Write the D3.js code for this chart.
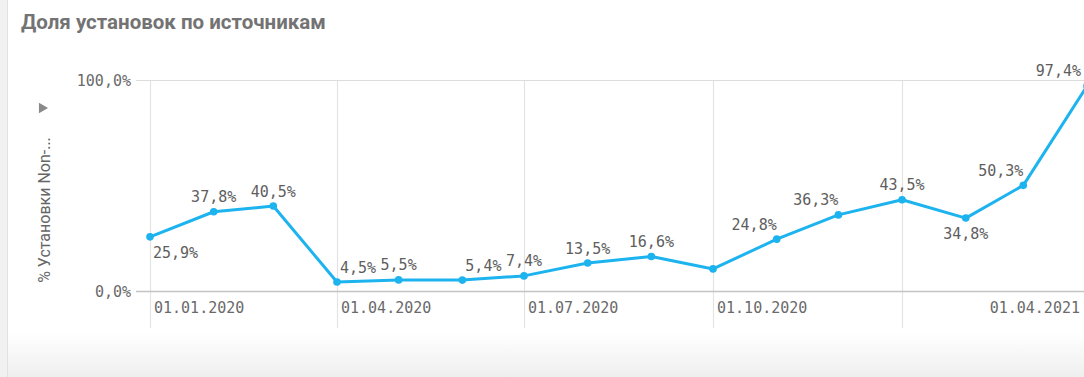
<!DOCTYPE html>
<html>
<head>
<meta charset="utf-8">
<script src="https://cdn.jsdelivr.net/npm/d3@7"></script>
<style>
  html, body { margin: 0; padding: 0; background: #fff; }
  svg { display: block; }
</style>
</head>
<body>
<svg id="chart" width="1084" height="377"></svg>
<script>
// Monthly share of installs (%), Jan 2020 – Apr 2021
const months = ["2020-01-01","2020-02-01","2020-03-01","2020-04-01","2020-05-01","2020-06-01",
                "2020-07-01","2020-08-01","2020-09-01","2020-10-01","2020-11-01","2020-12-01",
                "2021-01-01","2021-02-01","2021-03-01","2021-04-01"];
const shareValues = [25.9, 37.8, 40.5, 4.5, 5.5, 5.4, 7.4, 13.5, 16.6, 10.7, 24.8, 36.3, 43.5, 34.8, 50.3, 97.4];
// where each value label sits relative to its point ("none" = label hidden)
const labelPlacement = ["below-start","above","above","above-start","above","above-start",
                        "above","above","above","none","above-end","above-end",
                        "above","below","above-end","above-end"];
const yTickValues = [0, 100];
const xTickDates = ["2020-01-01","2020-04-01","2020-07-01","2020-10-01","2021-01-01","2021-04-01"];
const xTickShown = [true, true, true, true, false, true];

const title = "Доля установок по источникам";
const yTitle = "% Установки Non-...";

const W = 1084, H = 377;
const svg = d3.select("#chart");
const parse = d3.utcParse("%Y-%m-%d");
const fmtDate = d3.utcFormat("%d.%m.%Y");
const fmtPct = v => d3.format(".1f")(v).replace(".", ",") + "%";

const plotLeft = 150, plotTop = 80.5, plotBottom = 291.5;

const x = d3.scaleUtc()
  .domain([parse("2020-01-01"), parse("2021-04-01")])
  .range([plotLeft, 1087]);
const y = d3.scaleLinear().domain([0, 100]).range([plotBottom, plotTop]);

const data = months.map((m, i) => ({ date: parse(m), value: shareValues[i], place: labelPlacement[i] }));

// page backdrop: left strip and lower shaded band
const defs = svg.append("defs");
const grad = defs.append("linearGradient").attr("id", "band").attr("x1", 0).attr("x2", 0).attr("y1", 0).attr("y2", 1);
grad.append("stop").attr("offset", "0%").attr("stop-color", "#ffffff");
grad.append("stop").attr("offset", "100%").attr("stop-color", "#efefef");
svg.append("rect").attr("x", 0).attr("y", 332).attr("width", W).attr("height", H - 332).attr("fill", "url(#band)");
svg.append("rect").attr("x", 0).attr("y", 0).attr("width", 7).attr("height", H).attr("fill", "#f1f1f1");
svg.append("line").attr("x1", 7.5).attr("x2", 7.5).attr("y1", 0).attr("y2", H).attr("stroke", "#e2e2e2");

// title
svg.append("text")
  .attr("x", 21).attr("y", 29)
  .attr("font-family", "Roboto, 'Open Sans', sans-serif")
  .attr("font-weight", 700)
  .attr("font-size", 20.5)
  .attr("fill", "#737373")
  .text(title);

// vertical gridlines at quarter starts
const gridX = xTickDates.map(parse);
svg.append("g").selectAll("line").data(gridX).join("line")
  .attr("x1", d => Math.round(x(d)) + 0.5).attr("x2", d => Math.round(x(d)) + 0.5)
  .attr("y1", plotTop).attr("y2", 328)
  .attr("stroke", "#e3e3e3").attr("stroke-width", 1.2);

// y axis ticks + horizontal lines
const yAxis = d3.axisLeft(y).tickValues(yTickValues).tickSize(0).tickFormat(fmtPct);
svg.append("g").selectAll("line.h").data(yTickValues).join("line")
  .attr("x1", 136).attr("x2", W)
  .attr("y1", d => y(d)).attr("y2", d => y(d))
  .attr("stroke", d => d === 0 ? "#c4c4c4" : "#dcdcdc")
  .attr("stroke-width", d => d === 0 ? 1.6 : 1.2);
const gy = svg.append("g").attr("transform", "translate(131,0)").call(yAxis);
gy.select(".domain").remove();
gy.selectAll("text")
  .attr("x", 0).attr("dy", "0.35em")
  .attr("font-family", "'DejaVu Sans Mono', monospace")
  .attr("font-size", 15)
  .attr("fill", "#6a6a6a");

// x axis labels (continuous time axis, quarterly)
const xLabels = gridX.map((d, i) => ({ d, show: xTickShown[i], last: i === gridX.length - 1 })).filter(t => t.show);
svg.append("g").selectAll("text").data(xLabels).join("text")
  .attr("x", t => t.last ? 1080 : x(t.d) + 4)
  .attr("y", 313)
  .attr("text-anchor", t => t.last ? "end" : "start")
  .attr("font-family", "'DejaVu Sans Mono', monospace")
  .attr("font-size", 15)
  .attr("fill", "#6a6a6a")
  .text(t => fmtDate(t.d));

// y axis title and collapse marker
svg.append("path")
  .attr("d", d3.symbol(d3.symbolTriangle, 48)())
  .attr("transform", "translate(42,108) rotate(90)")
  .attr("fill", "#8a8a8a");
svg.append("text")
  .attr("transform", "translate(50,210) rotate(-90)")
  .attr("text-anchor", "middle")
  .attr("font-family", "Roboto, sans-serif")
  .attr("font-size", 16)
  .attr("fill", "#666")
  .text(yTitle);

// line + points
const color = "#1cb3ef";
const line = d3.line().x(d => x(d.date)).y(d => y(d.value));
svg.append("path").datum(data)
  .attr("d", line)
  .attr("fill", "none")
  .attr("stroke", color)
  .attr("stroke-width", 3)
  .attr("stroke-linejoin", "round");
svg.append("g").selectAll("circle").data(data).join("circle")
  .attr("cx", d => x(d.date)).attr("cy", d => y(d.value))
  .attr("r", 3.8).attr("fill", color);

// value labels (kept inside the visible width)
svg.append("g").selectAll("text").data(data.filter(d => d.place !== "none")).join("text")
  .attr("x", d => {
    const px = x(d.date);
    if (d.place.endsWith("start")) return px + 3;
    if (d.place.endsWith("end")) return Math.min(px, W - 3);
    return px;
  })
  .attr("y", d => d.place.startsWith("below") ? y(d.value) + 21 : y(d.value) - 9.5)
  .attr("text-anchor", d => d.place.endsWith("start") ? "start" : d.place.endsWith("end") ? "end" : "middle")
  .attr("font-family", "'DejaVu Sans Mono', monospace")
  .attr("font-size", 15)
  .attr("fill", "#5e5e5e")
  .text(d => fmtPct(d.value));
</script>
</body>
</html>
